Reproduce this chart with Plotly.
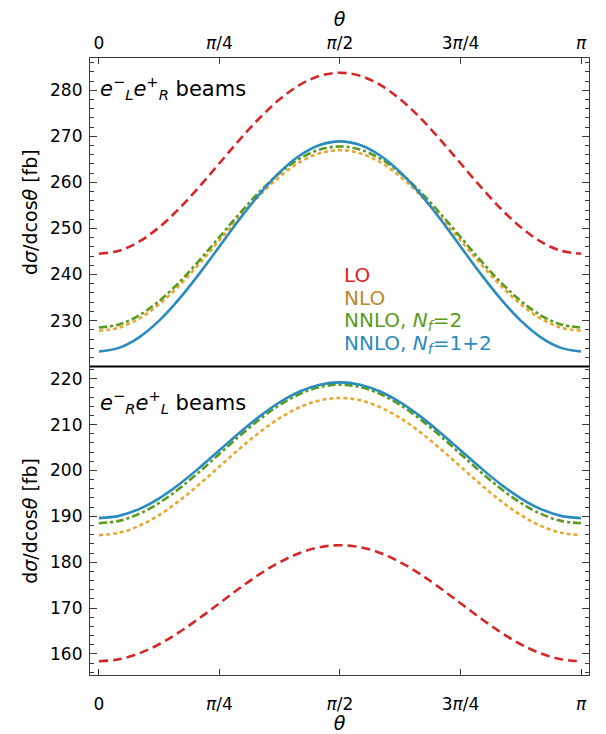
import numpy as np
import plotly.graph_objects as go

deg = [0, 7.5, 15, 22.5, 30, 37.5, 45, 52.5, 60, 67.5, 75, 82.5, 90,
       97.5, 105, 112.5, 120, 127.5, 135, 142.5, 150, 157.5, 165, 172.5, 180]
theta = [d * np.pi / 180 for d in deg]

# top panel: e_L^- e_R^+ beams
top_LO = [244.5, 245.17, 247.13, 250.26, 254.33, 259.06, 264.15, 269.24, 273.98, 278.04, 281.17, 283.13, 283.8,
          283.13, 281.17, 278.04, 273.98, 269.24, 264.15, 259.06, 254.33, 250.26, 247.13, 245.17, 244.5]
top_NLO = [227.8, 228.47, 230.43, 233.54, 237.6, 242.33, 247.4, 252.47, 257.2, 261.26, 264.38, 266.33, 267.0,
           266.33, 264.38, 261.26, 257.2, 252.47, 247.4, 242.33, 237.6, 233.54, 230.43, 228.47, 227.8]
top_NNLO2 = [228.5, 229.17, 231.13, 234.26, 238.33, 243.06, 248.15, 253.24, 257.98, 262.04, 265.17, 267.13, 267.8,
             267.13, 265.17, 262.04, 257.98, 253.24, 248.15, 243.06, 238.33, 234.26, 231.13, 229.17, 228.5]
top_NNLO12 = [223.3, 224.08, 226.36, 229.98, 234.7, 240.2, 246.1, 252.0, 257.5, 262.22, 265.84, 268.12, 268.9,
              268.12, 265.84, 262.22, 257.5, 252.0, 246.1, 240.2, 234.7, 229.98, 226.36, 224.08, 223.3]

# bottom panel: e_R^- e_L^+ beams
bot_LO = [158.4, 158.83, 160.10, 162.11, 164.73, 167.78, 171.05, 174.32, 177.38, 179.99, 182.01, 183.27, 183.7,
          183.27, 182.01, 179.99, 177.38, 174.32, 171.05, 167.78, 164.73, 162.11, 160.10, 158.83, 158.4]
bot_NLO = [185.9, 186.41, 187.91, 190.28, 193.38, 196.98, 200.85, 204.72, 208.33, 211.42, 213.80, 215.29, 215.8,
           215.29, 213.80, 211.42, 208.33, 204.72, 200.85, 196.98, 193.38, 190.28, 187.91, 186.41, 185.9]
bot_NNLO2 = [188.5, 189.01, 190.52, 192.92, 196.05, 199.69, 203.6, 207.51, 211.15, 214.28, 216.68, 218.19, 218.7,
             218.19, 216.68, 214.28, 211.15, 207.51, 203.6, 199.69, 196.05, 192.92, 190.52, 189.01, 188.5]
bot_NNLO12 = [189.6, 190.10, 191.58, 193.93, 197.0, 200.57, 204.4, 208.23, 211.8, 214.87, 217.23, 218.7, 219.2,
              218.7, 217.23, 214.87, 211.8, 208.23, 204.4, 200.57, 197.0, 193.93, 191.58, 190.10, 189.6]

tick_vals = [0, np.pi / 4, np.pi / 2, 3 * np.pi / 4, np.pi]
tick_text = ["0", "<i>π</i>/4", "<i>π</i>/2", "3<i>π</i>/4", "<i>π</i>"]

series_names = ["LO", "NLO", "NNLO, <i>N<sub>f</sub></i>=2", "NNLO, <i>N<sub>f</sub></i>=1+2"]
line_colors = ["#d62728", "#e5a832", "#5a9a1e", "#2a8bbe"]
text_colors = ["#d62728", "#b8892c", "#5a9a1e", "#2a8bbe"]
dashes = ["9px,5px", "4px,3px", "8px,3px,3px,3px", "solid"]

FONT = "DejaVu Sans"
fig = go.Figure()

for ys, ax in [((top_LO, top_NLO, top_NNLO2, top_NNLO12), ("x", "y")),
               ((bot_LO, bot_NLO, bot_NNLO2, bot_NNLO12), ("x2", "y2"))]:
    for i, y in enumerate(ys):
        fig.add_trace(go.Scatter(
            x=theta, y=y, mode="lines", xaxis=ax[0], yaxis=ax[1],
            line=dict(color=line_colors[i], width=2.6, dash=dashes[i], shape="spline", smoothing=1.0),
            showlegend=False, name=series_names[i]))

xr = [-0.058, np.pi + 0.052]
axcol = "#3a3a3a"
common_x = dict(range=xr, tickvals=tick_vals, ticktext=tick_text, ticks="inside", ticklen=6,
                tickcolor=axcol, showline=True, linecolor=axcol, linewidth=1.2, mirror=True,
                showgrid=False, zeroline=False, automargin=False,
                tickfont=dict(family=FONT, size=17, color="black"))
common_y = dict(ticks="inside", ticklen=7, tickcolor=axcol, showline=True, linecolor=axcol,
                linewidth=1.2, mirror="ticks", showgrid=False, zeroline=False, dtick=10, automargin=False,
                ticklabelstandoff=3,
                tickfont=dict(family=FONT, size=17, color="black"),
                minor=dict(dtick=2, ticks="inside", ticklen=4, tickcolor=axcol),
                title=dict(text="d<i>σ</i>/dcos<i>θ</i> [fb]", font=dict(family=FONT, size=19, color="black"),
                           standoff=7))

# the page body has an 8px margin, so the figure is 8px smaller and margins compensate
fig.update_layout(
    width=598, height=726,
    margin=dict(l=82, r=17, t=50, b=59),
    plot_bgcolor="white", paper_bgcolor="white",
    xaxis=dict(anchor="y", side="top", ticklabelstandoff=1, **common_x,
               title=dict(text="<i>θ</i>", font=dict(family=FONT, size=19, color="black"), standoff=7)),
    yaxis=dict(domain=[0.5005, 1.0], range=[220.1, 287.0], **common_y),
    xaxis2=dict(anchor="y2", side="bottom", ticklabelstandoff=13, **common_x,
                title=dict(text="<i>θ</i>", font=dict(family=FONT, size=19, color="black"), standoff=1)),
    yaxis2=dict(domain=[0.0, 0.4995], range=[155.4, 222.6], **common_y),
)

# separator line between panels
fig.add_shape(type="line", xref="paper", yref="paper", x0=0, x1=1, y0=0.5, y1=0.5,
              line=dict(color="black", width=2))

# legend as colored text
leg_y = [240.0, 235.0, 230.0, 225.0]
for i in range(4):
    fig.add_annotation(x=1.584, y=leg_y[i], xref="x", yref="y", text=series_names[i],
                       showarrow=False, xanchor="left", yanchor="middle",
                       font=dict(family=FONT, size=20, color=text_colors[i]))

fig.add_annotation(x=-0.005, y=280.4, xref="x", yref="y", showarrow=False, xanchor="left", yanchor="middle",
                   text="<i>e</i><sup>−</sup><sub><i>L</i></sub><i>e</i><sup>+</sup><sub><i>R</i></sub> beams",
                   font=dict(family=FONT, size=21, color="black"))
fig.add_annotation(x=-0.005, y=214.9, xref="x2", yref="y2", showarrow=False, xanchor="left", yanchor="middle",
                   text="<i>e</i><sup>−</sup><sub><i>R</i></sub><i>e</i><sup>+</sup><sub><i>L</i></sub> beams",
                   font=dict(family=FONT, size=21, color="black"))

fig.write_html("out.html")
